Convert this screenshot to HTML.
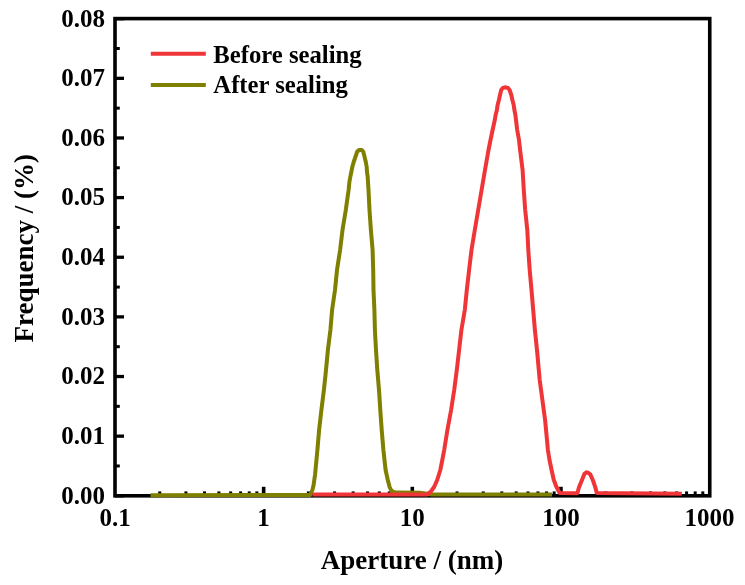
<!DOCTYPE html>
<html><head><meta charset="utf-8"><style>
html,body{margin:0;padding:0;background:#fff;width:745px;height:585px;overflow:hidden}
svg{display:block;will-change:transform}
text{font-family:"Liberation Serif",serif;font-weight:bold;fill:#000}
</style></head><body>
<svg width="745" height="585" viewBox="0 0 745 585">
<rect width="745" height="585" fill="#fff"/>
<g font-size="25">
<text x="105" y="503.6" text-anchor="end">0.00</text>
<text x="105" y="444.0" text-anchor="end">0.01</text>
<text x="105" y="384.3" text-anchor="end">0.02</text>
<text x="105" y="324.7" text-anchor="end">0.03</text>
<text x="105" y="265.0" text-anchor="end">0.04</text>
<text x="105" y="205.4" text-anchor="end">0.05</text>
<text x="105" y="145.8" text-anchor="end">0.06</text>
<text x="105" y="86.1" text-anchor="end">0.07</text>
<text x="105" y="26.5" text-anchor="end">0.08</text>
<text x="115.0" y="525.5" text-anchor="middle">0.1</text>
<text x="263.6" y="525.5" text-anchor="middle">1</text>
<text x="412.3" y="525.5" text-anchor="middle">10</text>
<text x="561.0" y="525.5" text-anchor="middle">100</text>
<text x="709.6" y="525.5" text-anchor="middle">1000</text>
</g>
<line x1="115" y1="495.80" x2="124" y2="495.80" stroke="#000" stroke-width="3.3"/>
<line x1="115" y1="465.98" x2="119.8" y2="465.98" stroke="#000" stroke-width="3.0"/>
<line x1="115" y1="436.16" x2="124" y2="436.16" stroke="#000" stroke-width="3.3"/>
<line x1="115" y1="406.34" x2="119.8" y2="406.34" stroke="#000" stroke-width="3.0"/>
<line x1="115" y1="376.52" x2="124" y2="376.52" stroke="#000" stroke-width="3.3"/>
<line x1="115" y1="346.70" x2="119.8" y2="346.70" stroke="#000" stroke-width="3.0"/>
<line x1="115" y1="316.88" x2="124" y2="316.88" stroke="#000" stroke-width="3.3"/>
<line x1="115" y1="287.06" x2="119.8" y2="287.06" stroke="#000" stroke-width="3.0"/>
<line x1="115" y1="257.24" x2="124" y2="257.24" stroke="#000" stroke-width="3.3"/>
<line x1="115" y1="227.42" x2="119.8" y2="227.42" stroke="#000" stroke-width="3.0"/>
<line x1="115" y1="197.60" x2="124" y2="197.60" stroke="#000" stroke-width="3.3"/>
<line x1="115" y1="167.78" x2="119.8" y2="167.78" stroke="#000" stroke-width="3.0"/>
<line x1="115" y1="137.96" x2="124" y2="137.96" stroke="#000" stroke-width="3.3"/>
<line x1="115" y1="108.14" x2="119.8" y2="108.14" stroke="#000" stroke-width="3.0"/>
<line x1="115" y1="78.32" x2="124" y2="78.32" stroke="#000" stroke-width="3.3"/>
<line x1="115" y1="48.50" x2="119.8" y2="48.50" stroke="#000" stroke-width="3.0"/>
<line x1="115" y1="18.68" x2="124" y2="18.68" stroke="#000" stroke-width="3.3"/>
<line x1="159.75" y1="495.8" x2="159.75" y2="491.4" stroke="#000" stroke-width="3.0"/>
<line x1="185.92" y1="495.8" x2="185.92" y2="491.4" stroke="#000" stroke-width="3.0"/>
<line x1="204.50" y1="495.8" x2="204.50" y2="491.4" stroke="#000" stroke-width="3.0"/>
<line x1="218.90" y1="495.8" x2="218.90" y2="491.4" stroke="#000" stroke-width="3.0"/>
<line x1="230.67" y1="495.8" x2="230.67" y2="491.4" stroke="#000" stroke-width="3.0"/>
<line x1="240.62" y1="495.8" x2="240.62" y2="491.4" stroke="#000" stroke-width="3.0"/>
<line x1="249.24" y1="495.8" x2="249.24" y2="491.4" stroke="#000" stroke-width="3.0"/>
<line x1="256.85" y1="495.8" x2="256.85" y2="491.4" stroke="#000" stroke-width="3.0"/>
<line x1="263.65" y1="495.8" x2="263.65" y2="486.8" stroke="#000" stroke-width="3.6"/>
<line x1="308.40" y1="495.8" x2="308.40" y2="491.4" stroke="#000" stroke-width="3.0"/>
<line x1="334.57" y1="495.8" x2="334.57" y2="491.4" stroke="#000" stroke-width="3.0"/>
<line x1="353.15" y1="495.8" x2="353.15" y2="491.4" stroke="#000" stroke-width="3.0"/>
<line x1="367.55" y1="495.8" x2="367.55" y2="491.4" stroke="#000" stroke-width="3.0"/>
<line x1="379.32" y1="495.8" x2="379.32" y2="491.4" stroke="#000" stroke-width="3.0"/>
<line x1="389.27" y1="495.8" x2="389.27" y2="491.4" stroke="#000" stroke-width="3.0"/>
<line x1="397.89" y1="495.8" x2="397.89" y2="491.4" stroke="#000" stroke-width="3.0"/>
<line x1="405.50" y1="495.8" x2="405.50" y2="491.4" stroke="#000" stroke-width="3.0"/>
<line x1="412.30" y1="495.8" x2="412.30" y2="486.8" stroke="#000" stroke-width="3.6"/>
<line x1="457.05" y1="495.8" x2="457.05" y2="491.4" stroke="#000" stroke-width="3.0"/>
<line x1="483.22" y1="495.8" x2="483.22" y2="491.4" stroke="#000" stroke-width="3.0"/>
<line x1="501.80" y1="495.8" x2="501.80" y2="491.4" stroke="#000" stroke-width="3.0"/>
<line x1="516.20" y1="495.8" x2="516.20" y2="491.4" stroke="#000" stroke-width="3.0"/>
<line x1="527.97" y1="495.8" x2="527.97" y2="491.4" stroke="#000" stroke-width="3.0"/>
<line x1="537.92" y1="495.8" x2="537.92" y2="491.4" stroke="#000" stroke-width="3.0"/>
<line x1="546.54" y1="495.8" x2="546.54" y2="491.4" stroke="#000" stroke-width="3.0"/>
<line x1="554.15" y1="495.8" x2="554.15" y2="491.4" stroke="#000" stroke-width="3.0"/>
<line x1="560.95" y1="495.8" x2="560.95" y2="486.8" stroke="#000" stroke-width="3.6"/>
<line x1="605.70" y1="495.8" x2="605.70" y2="491.4" stroke="#000" stroke-width="3.0"/>
<line x1="631.87" y1="495.8" x2="631.87" y2="491.4" stroke="#000" stroke-width="3.0"/>
<line x1="650.45" y1="495.8" x2="650.45" y2="491.4" stroke="#000" stroke-width="3.0"/>
<line x1="664.85" y1="495.8" x2="664.85" y2="491.4" stroke="#000" stroke-width="3.0"/>
<line x1="676.62" y1="495.8" x2="676.62" y2="491.4" stroke="#000" stroke-width="3.0"/>
<line x1="686.57" y1="495.8" x2="686.57" y2="491.4" stroke="#000" stroke-width="3.0"/>
<line x1="695.19" y1="495.8" x2="695.19" y2="491.4" stroke="#000" stroke-width="3.0"/>
<line x1="702.80" y1="495.8" x2="702.80" y2="491.4" stroke="#000" stroke-width="3.0"/>
<rect x="115" y="18.6" width="594.75" height="477.2" fill="none" stroke="#000" stroke-width="3.6"/>
<polyline points="150.5,495.2 310.2,495.0 312.4,490.0 313.6,485.0 314.3,480.0 315.0,475.0 315.5,470.0 317.4,450.0 319.1,430.0 321.4,410.0 323.9,390.0 326.0,370.0 327.9,350.0 330.4,330.0 332.1,310.0 335.0,290.0 337.0,270.0 340.1,250.0 342.5,230.0 345.8,210.0 348.6,190.0 349.4,182.0 350.3,177.0 351.3,172.0 352.3,167.0 353.7,162.0 355.4,157.0 357.2,151.6 359.0,150.1 361.8,150.1 363.3,151.8 364.6,157.0 365.8,162.0 366.7,167.0 367.0,172.0 367.7,177.0 368.0,182.0 368.5,190.0 369.5,210.0 370.9,230.0 372.6,250.0 373.2,270.0 373.5,290.0 374.4,310.0 374.9,330.0 376.0,350.0 377.3,370.0 379.0,390.0 380.3,410.0 381.7,430.0 383.4,450.0 385.6,470.0 387.8,480.0 389.6,487.0 391.3,490.5 393.5,492.0 397.0,492.6 420.0,492.7 432.0,494.4 552.0,494.6" fill="none" stroke="#7f7f00" stroke-width="4" stroke-linejoin="round"/>
<polyline points="312.5,494.6 427.0,494.5 430.5,492.0 434.1,487.0 437.2,480.0 440.3,470.0 442.3,460.0 444.2,450.0 447.4,430.0 451.1,410.0 454.2,390.0 456.8,370.0 459.1,350.0 461.4,330.0 464.8,310.0 466.8,290.0 469.1,270.0 471.5,250.0 474.8,230.0 478.2,210.0 481.6,190.0 485.0,170.0 488.5,150.0 490.5,140.0 492.6,130.0 494.8,120.0 495.6,115.0 496.9,110.0 497.6,105.0 498.9,100.0 500.0,95.0 501.2,90.0 502.8,88.0 505.6,87.3 508.0,88.0 509.6,90.0 511.3,95.0 512.4,100.0 513.7,105.0 514.4,110.0 515.4,115.0 516.0,120.0 517.2,130.0 519.0,140.0 520.1,150.0 522.6,170.0 523.8,190.0 525.2,210.0 527.3,230.0 528.3,250.0 529.7,270.0 531.5,290.0 533.2,310.0 534.9,330.0 537.0,350.0 539.7,380.0 542.4,400.0 545.1,420.0 547.0,440.0 547.9,450.0 549.5,460.0 551.6,470.0 553.8,480.0 556.5,487.0 559.7,493.0 577.4,493.2 579.0,487.3 581.8,480.5 584.5,473.7 586.7,472.3 588.5,472.9 590.4,474.6 593.0,480.5 595.3,487.3 596.8,493.0 681.8,493.7" fill="none" stroke="#ef3538" stroke-width="4" stroke-linejoin="round"/>
<line x1="150.8" y1="53.8" x2="205.8" y2="53.8" stroke="#ef3538" stroke-width="4"/>
<line x1="150.8" y1="84.9" x2="205.8" y2="84.9" stroke="#7f7f00" stroke-width="4"/>
<g font-size="24.7">
<text x="213.3" y="62.6">Before sealing</text>
<text x="213.3" y="93.4">After sealing</text>
</g>
<g font-size="27">
<text x="412" y="569" text-anchor="middle">Aperture / (nm)</text>
<text transform="translate(32.5,248.3) rotate(-90)" text-anchor="middle">Frequency / (%)</text>
</g>
</svg>
</body></html>
